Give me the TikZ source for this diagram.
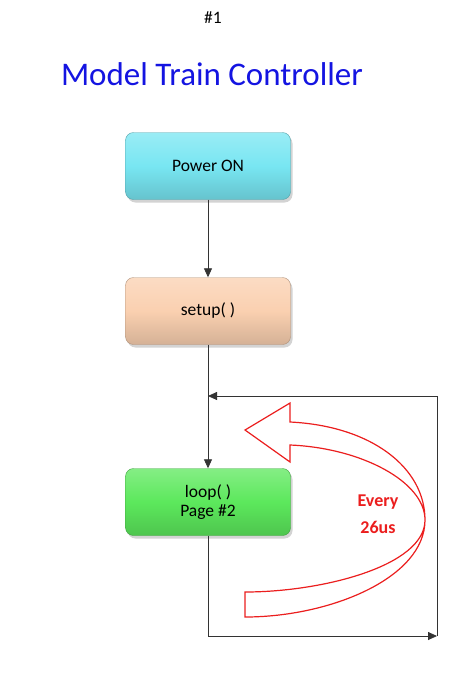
\documentclass[tikz,border=0pt]{standalone}
\usepackage{fontspec}
\setmainfont{Carlito}
\usetikzlibrary{arrows.meta,positioning,shadows}

\begin{document}
\begin{tikzpicture}[
    x=1pt, y=-1pt,
    >={Triangle[length=9pt,width=8pt]},
    font=\fontsize{17.5}{20}\selectfont,
    stepbox/.style={
        rounded corners=8pt,
        minimum width=165pt,
        minimum height=67pt,
        align=center,
        draw=#1!70!black,
        line width=0.4pt,
        top color=#1!75!white,
        bottom color=#1!85!black,
        middle color=#1,
        drop shadow={shadow xshift=2pt, shadow yshift=-3pt, opacity=0.35}
    },
    flow/.style={draw=black!80, line width=0.8pt},
    everylabel/.style={
        font=\fontsize{18}{27}\selectfont\bfseries,
        text=redcol,
        align=center
    }
]

% ---------------------------------
% Colors
% ---------------------------------
\definecolor{pwcol}{RGB}{120,230,242}
\definecolor{sucol}{RGB}{250,208,176}
\definecolor{lpcol}{RGB}{92,232,92}
\definecolor{titlecol}{RGB}{20,20,225}
\definecolor{redcol}{RGB}{235,30,30}

\useasboundingbox (0,0) rectangle (474,675);

% ---------------------------------
% Heading
% ---------------------------------
\node (pagenum) at (213,18) {\#1};
\node[text=titlecol, font=\fontsize{33}{36}\selectfont] (title) at (212,74) {Model Train Controller};

% ---------------------------------
% Boxes
% ---------------------------------
\node[stepbox=pwcol] (power) at (208,166) {Power ON};
\node[stepbox=sucol] (setup) at (208,311) {setup( )};
\node[stepbox=lpcol] (loop) at (208,502) {loop( )\\[-1pt]Page \#2};

% ---------------------------------
% Connectors
% ---------------------------------
\coordinate (corner) at (437,636);
\coordinate (join) at (208,396);

\draw[flow,->] (power) -- (setup);
\draw[flow,->] (setup) -- (loop);
\draw[flow,->] (loop.south) |- (corner);
\draw[flow,->] (corner) |- (join);

% ---------------------------------
% Repeat arrow
% ---------------------------------
\draw[redcol, line width=1.2pt, fill=white, line join=miter]
    (290,403) -- (290,422)
    .. controls (372,426) and (425,468) .. (425,520)
    .. controls (425,578) and (330,617) .. (245,617)
    -- (245,592)
    .. controls (322,592) and (425,566) .. (425,520)
    .. controls (425,482) and (362,448) .. (290,445)
    -- (290,462) -- (245,430) -- cycle;

\node[everylabel] (every) at (378,514) {Every\\26us};

\end{tikzpicture}
\end{document}
